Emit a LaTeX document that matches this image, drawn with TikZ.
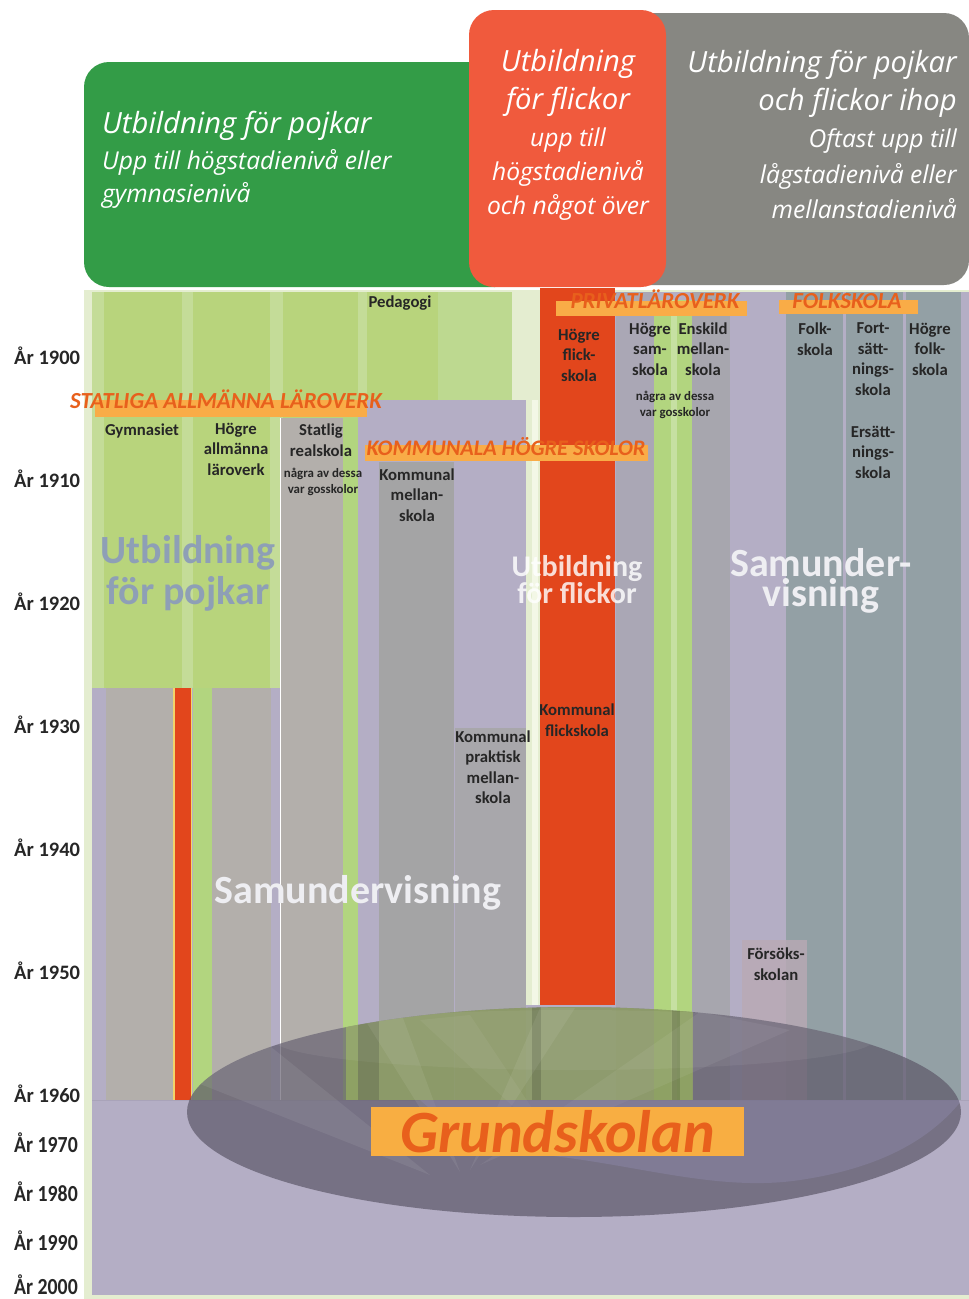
\documentclass[tikz,border=0pt]{standalone}
\usepackage{fontspec}
\usepackage{graphicx}
\setmainfont{Carlito}
\newfontfamily\headfont{Open Sans}
\definecolor{palebg}{HTML}{E4EDD0}
\definecolor{paleW}{HTML}{F3F7E6}
\definecolor{grn}{HTML}{B8D47C}
\definecolor{grnl}{HTML}{C4DC98}
\definecolor{grnr}{HTML}{BDD990}
\definecolor{lav}{HTML}{B4AEC5}
\definecolor{greyA}{HTML}{B3AFAB}
\definecolor{greyM}{HTML}{A4A4A5}
\definecolor{greyP}{HTML}{A8A7AB}
\definecolor{redc}{HTML}{E2461C}
\definecolor{samc}{HTML}{AAA7B5}
\definecolor{enc}{HTML}{A7A6AE}
\definecolor{folkc}{HTML}{93A0A5}
\definecolor{grnS}{HTML}{B2D57F}
\definecolor{grnSL}{HTML}{C6E0A2}
\definecolor{orbar}{HTML}{F9AC47}
\definecolor{ortxt}{HTML}{E8601C}
\definecolor{hgreen}{HTML}{339C47}
\definecolor{hgrey}{HTML}{878782}
\definecolor{hred}{HTML}{F05A3D}
\definecolor{txt}{HTML}{262626}
\definecolor{bigblue}{HTML}{8E9FB6}
\definecolor{ellc}{HTML}{5D5869}
\definecolor{grnE}{HTML}{A3BF5C}
\definecolor{wave}{HTML}{8D88AB}
\definecolor{grund}{HTML}{F8AE42}
\definecolor{fors}{HTML}{B9A9B4}
\definecolor{wht}{HTML}{EEEEF2}
\definecolor{yel}{HTML}{F2D46A}
\begin{document}
\begin{tikzpicture}[x=1pt,y=-1pt,
  yr/.style={font={\bfseries\fontsize{20.5}{24}\selectfont}, text=txt, anchor=base west, inner sep=0pt},
  yrb/.style={font={\bfseries\fontsize{23}{26}\selectfont}, text=txt, anchor=base west, inner sep=0pt},
  lbl/.style={font={\bfseries\fontsize{16.7}{20.5}\selectfont}, text=txt, align=center, inner sep=0pt},
  sml/.style={font={\bfseries\fontsize{12.9}{16}\selectfont}, text=txt, align=center, inner sep=0pt},
  hd/.style={font={\bfseries\itshape\fontsize{23}{26}\selectfont}, text=ortxt, anchor=base, inner sep=0pt},
  hbig/.style={font={\headfont\itshape\fontsize{29.2}{34}\selectfont}, text=white, inner sep=0pt},
  hsm/.style={font={\headfont\itshape\fontsize{24.6}{28}\selectfont}, text=white, inner sep=0pt},
  bigt/.style={align=center, inner sep=0pt},
  hbox/.style={rounded corners=25pt}
]
\useasboundingbox (0,0) rectangle (969,1299);
\fill[white] (0,0) rectangle (969,1299);

% ---------- background
\fill[palebg] (84,290) rectangle (969,1299);
\fill[lav] (92,292) rectangle (969,1295);

% ---------- green (boys) area
\fill[grn] (92,292) rectangle (280,688);
\fill[grn] (280,292) rectangle (358,418);
\fill[grn] (358,292) rectangle (512,400);
\fill[grnl] (92,292) rectangle (104,688);
\fill[grnl] (182,292) rectangle (193,688);
\fill[grnl] (270,292) rectangle (283,418);
\fill[grnl] (270,418) rectangle (280,688);
\fill[grnl] (358,292) rectangle (367,400);
\fill[grnr] (438,292) rectangle (512,400);

% pale strip between boys and girls
\fill[palebg] (512,290) rectangle (540,400);
\fill[palebg] (526,400) rectangle (540,1005);
\fill[paleW] (532,400) rectangle (538,1005);

% red column (girls)
\fill[redc] (540,288) rectangle (615,1005);

% left lower columns
\fill[greyA] (106,688) rectangle (173,1100);
\fill[yel] (173,688) rectangle (192,1100);
\fill[redc] (174.5,688) rectangle (190.5,1100);
\fill[grnS] (193,688) rectangle (212,1100);
\fill[greyA] (212,688) rectangle (271,1100);

% statlig realskola + strip
\fill[greyA] (281,418) rectangle (343,1100);
\fill[grnS] (343,418) rectangle (358,1100);
\draw[white, line width=1pt] (280.5,418) -- (280.5,1100);

% kommunala
\fill[greyM] (379,462) rectangle (454,1100);
\fill[greyP] (455,728) rectangle (526,1100);

% right side
\fill[samc] (616,292) rectangle (654,1100);
\fill[grnS] (654,300) rectangle (692,1100);
\fill[grnSL] (671,300) rectangle (677,1100);
\fill[enc] (692,292) rectangle (730,1100);
\fill[folkc] (786,292) rectangle (843,1100);
\fill[folkc] (846,292) rectangle (903,1100);
\fill[folkc] (906,292) rectangle (961,1100);
\fill[fors, opacity=.8] (742,940) rectangle (807,1100);
\draw[lav!85!black, opacity=.4, line width=.8pt] (92,1100.5) -- (969,1100.5);

% ---------- ellipse (Grundskolan)
\fill[ellc, opacity=.7] (574,1112) ellipse [x radius=387pt, y radius=105pt];
\begin{scope}
  \clip (574,1112) ellipse [x radius=387pt, y radius=105pt];
  \fill[grnE, opacity=.55] (346,1000) rectangle (693,1100);
  \fill[white, opacity=.06] (574,1040) ellipse [x radius=300pt, y radius=30pt];
  \fill[black, opacity=.15] (358,1000) rectangle (379,1100);
  \fill[black, opacity=.15] (532,1000) rectangle (541,1100);
  \fill[black, opacity=.15] (672,1000) rectangle (680,1100);
  \fill[white, opacity=.07] (190,1080) -- (250,1030) -- (430,1175) -- cycle;
  \fill[white, opacity=.07] (360,1012) -- (400,1010) -- (460,1172) -- cycle;
  \fill[white, opacity=.07] (540,1008) -- (575,1008) -- (470,1170) -- cycle;
  \fill[white, opacity=.06] (700,1012) -- (790,1030) -- (480,1165) -- cycle;
  \fill[white, opacity=.05] (420,1020) -- (470,1015) -- (560,1150) -- cycle;
  \fill[wave, opacity=.45] (420,1100) -- (962,1100) .. controls (930,1140) and (880,1168) .. (800,1180) .. controls (700,1195) and (600,1150) .. (480,1152) -- cycle;
\end{scope}

\node[fill=grund, inner sep=0pt, minimum width=373pt, minimum height=49pt,
      font={\bfseries\itshape\fontsize{60}{60}\selectfont}, text=ortxt] (grund) at (557.5,1131.5) {Grundskolan};

% ---------- orange headings
\fill[orbar] (95,400) rectangle (367,417);
\node[hd] (hstat) at (226,408) {STATLIGA ALLMÄNNA LÄROVERK};
\fill[orbar] (365,445) rectangle (648,461);
\node[hd, font={\bfseries\itshape\fontsize{22.2}{26}\selectfont}] (hkom) at (506,455) {KOMMUNALA HÖGRE SKOLOR};
\fill[orbar] (556,301) rectangle (747,316);
\node[hd] (hpriv) at (655,308) {PRIVATLÄROVERK};
\fill[orbar] (779,300) rectangle (918,314);
\node[hd] (hfolk) at (847,308) {FOLKSKOLA};

% ---------- column labels
\node[lbl] (ped) at (400,303) {Pedagogi};
\node[lbl] (gym) at (142,431) {Gymnasiet};
\node[lbl] (hal) at (236,449) {Högre\\allmänna\\läroverk};
\node[lbl] (sre) at (321,440) {Statlig\\realskola};
\node[sml] (gos1) at (323,482) {några av dessa\\var gosskolor};
\node[lbl] (kme) at (417,495) {Kommunal\\mellan-\\skola};
\node[lbl] (hfl) at (579,355) {Högre\\flick-\\skola};
\node[lbl] (hsa) at (650,349) {Högre\\sam-\\skola};
\node[lbl] (ens) at (703,349) {Enskild\\mellan-\\skola};
\node[sml] (gos2) at (675,405) {några av dessa\\var gosskolor};
\node[lbl] (fok) at (815,339) {Folk-\\skola};
\node[lbl] (fort) at (873,359) {Fort-\\sätt-\\nings-\\skola};
\node[lbl] (ers) at (873,452) {Ersätt-\\nings-\\skola};
\node[lbl] (hfo) at (930,349) {Högre\\folk-\\skola};
\node[lbl] (kpm) at (493,767) {Kommunal\\praktisk\\mellan-\\skola};
\node[lbl] (kfl) at (577,720) {Kommunal\\flickskola};
\node[lbl] (fsk) at (776,964) {Försöks-\\skolan};

% ---------- big faded labels
\node[bigt, text=bigblue, font={\bfseries\fontsize{40}{41}\selectfont}] (bpoj) at (188,573) {Utbildning\\för pojkar};
\node[bigt, text=white, text opacity=.82, font={\bfseries\fontsize{30}{24.5}\selectfont}] (bfli) at (577,580) {Utbildning\\för flickor};
\node[bigt, text=wht, font={\bfseries\fontsize{40}{27}\selectfont}] (bsam) at (821,581) {Samunder-\\visning};
\node[bigt, text=wht, font={\bfseries\fontsize{40}{41}\selectfont}] (bsam2) at (358,893) {Samundervisning};

% ---------- years
\node[yr] (y00) at (14,364) {År 1900};
\node[yr] (y10) at (14,487) {År 1910};
\node[yr] (y20) at (14,610) {År 1920};
\node[yr] (y30) at (14,733) {År 1930};
\node[yr] (y40) at (14,856) {År 1940};
\node[yr] (y50) at (14,979) {År 1950};
\node[yr] (y60) at (14,1102) {År 1960};
\node[yrb] (y70) at (14,1152) {\scalebox{0.86}[1]{År 1970}};
\node[yrb] (y80) at (14,1201) {\scalebox{0.86}[1]{År 1980}};
\node[yrb] (y90) at (14,1250) {\scalebox{0.86}[1]{År 1990}};
\node[yrb] (y2k) at (14,1294) {\scalebox{0.86}[1]{År 2000}};

% ---------- header boxes
\fill[hgreen, hbox] (84,62) rectangle (520,287);
\fill[hgrey, hbox] (620,13) rectangle (969,285);
\fill[hred, hbox] (469,10) rectangle (666,287);

\node[hbig, anchor=base west] (g1) at (102,133) {Utbildning för pojkar};
\node[hsm, anchor=base west] (g2) at (102,169) {Upp till högstadienivå eller};
\node[hsm, anchor=base west] (g3) at (102,202) {gymnasienivå};

\node[hbig, anchor=base] (r1) at (568,71) {Utbildning};
\node[hbig, anchor=base] (r2) at (568,109) {för flickor};
\node[hsm, anchor=base] (r3) at (568,146) {upp till};
\node[hsm, anchor=base] (r4) at (568,180) {högstadienivå};
\node[hsm, anchor=base] (r5) at (568,214) {och något över};

\node[hbig, anchor=base east] (s1) at (957,72) {Utbildning för pojkar};
\node[hbig, anchor=base east] (s2) at (957,110) {och flickor ihop};
\node[hsm, anchor=base east] (s3) at (957,147) {Oftast upp till};
\node[hsm, anchor=base east] (s4) at (957,183) {lågstadienivå eller};
\node[hsm, anchor=base east] (s5) at (957,218) {mellanstadienivå};
\end{tikzpicture}
\end{document}
